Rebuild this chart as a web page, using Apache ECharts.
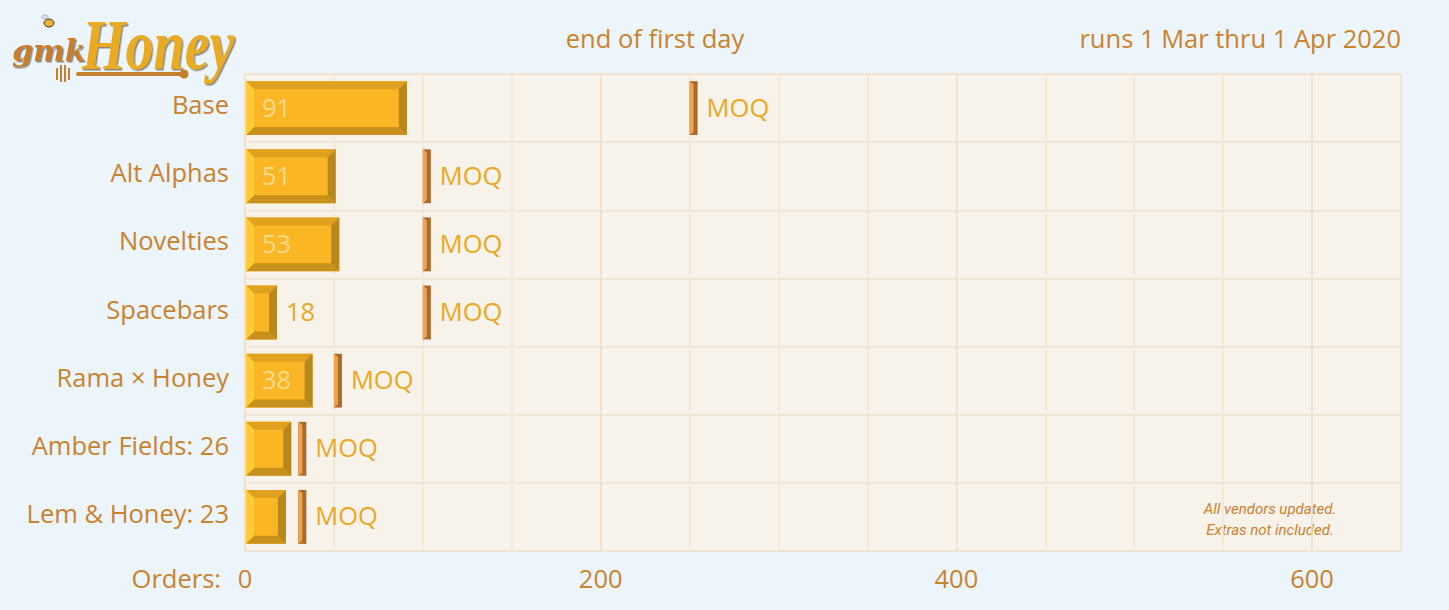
<!DOCTYPE html>
<html><head><meta charset="utf-8">
<script src="https://cdn.jsdelivr.net/npm/echarts@6/dist/echarts.min.js"></script>
<style>html,body{margin:0;padding:0;background:#EBF5FB;}#c{width:1449px;height:610px;}</style>
</head><body><div id="c"></div>
<script>
const categories = ['Base','Alt Alphas','Novelties','Spacebars','Rama × Honey','Amber Fields: 26','Lem & Honey: 23'];
const orders = [91, 51, 53, 18, 38, 26, 23];
const moq = [250, 100, 100, 100, 50, 30, 30];
const showValue = [1, 1, 1, 1, 1, 0, 0];
const xTickLabels = [0, 200, 400, 600];
const titleText = 'end of first day';
const subText = 'runs 1 Mar thru 1 Apr 2020';
const noteLines = ['All vendors updated.', 'Extras not included.'];

const FONT = '"Open Sans", Lato, sans-serif';
const FS = 25.5;
const BROWN = '#C9822F';
const GOLD = '#E9A823';

const chart = echarts.init(document.getElementById('c'), null, {renderer: 'svg'});

function renderBar(params, api) {
  const idx = api.value(0), v = api.value(1), show = api.value(2);
  const p0 = api.coord([0, idx]), p1 = api.coord([v, idx]);
  const h = api.size([0, 1])[1] * 0.79;
  const x0 = p0[0] + 1, x1 = p1[0], y0 = p0[1] - h / 2, y1 = p0[1] + h / 2;
  const b = Math.min(8, (x1 - x0) / 2, h / 2);
  const children = [
    {type: 'rect', shape: {x: x0, y: y0, width: x1 - x0, height: h}, style: {fill: '#FAB624'}},
    {type: 'polygon', shape: {points: [[x0, y0], [x1, y0], [x1 - b, y0 + b], [x0 + b, y0 + b]]}, style: {fill: '#DFA11F'}},
    {type: 'polygon', shape: {points: [[x0, y1], [x1, y1], [x1 - b, y1 - b], [x0 + b, y1 - b]]}, style: {fill: '#C8911B'}},
    {type: 'polygon', shape: {points: [[x0, y0], [x0 + b, y0 + b], [x0 + b, y1 - b], [x0, y1]]}, style: {fill: '#FFCB36'}},
    {type: 'polygon', shape: {points: [[x1, y0], [x1 - b, y0 + b], [x1 - b, y1 - b], [x1, y1]]}, style: {fill: '#B8881F'}}
  ];
  if (show) {
    const inside = (x1 - x0) > 50;
    children.push({
      type: 'text',
      style: {
        text: String(v),
        x: inside ? x0 + 16 : x1 + 9,
        y: p0[1] - 1.5,
        fill: inside ? '#F8DC8C' : GOLD,
        fontSize: FS, fontFamily: FONT,
        align: 'left', verticalAlign: 'middle'
      }
    });
  }
  return {type: 'group', children: children};
}

function renderMoq(params, api) {
  const idx = api.value(0), v = api.value(1);
  const p = api.coord([v, idx]);
  const h = api.size([0, 1])[1] * 0.79;
  const x0 = p[0], y0 = p[1] - h / 2, y1 = p[1] + h / 2;
  const w = 8, m = 4;
  return {type: 'group', children: [
    {type: 'rect', shape: {x: x0, y: y0, width: w, height: h}, style: {fill: '#A86B2B'}},
    {type: 'polygon', shape: {points: [[x0, y0], [x0 + m, y0 + 3], [x0 + m, y1 - 3], [x0, y1]]}, style: {fill: '#F0A24C'}},
    {type: 'text', style: {text: 'MOQ', x: x0 + 17, y: p[1] - 1.5, fill: GOLD, fontSize: FS, fontFamily: FONT, align: 'left', verticalAlign: 'middle'}}
  ]};
}

const barData = orders.map((v, i) => [i, v, showValue[i]]);
const moqData = moq.map((v, i) => [i, v]);

const logoShadow = {textShadowColor: 'rgba(60,40,20,0.55)', textShadowOffsetX: 1.5, textShadowOffsetY: 1.5, textShadowBlur: 1};

chart.setOption({
  backgroundColor: '#EBF5FB',
  animation: false,
  grid: {left: 245, right: 48, top: 74, bottom: 59, show: true, backgroundColor: '#F7F2EA', borderColor: '#F0E1CB', borderWidth: 1},
  xAxis: {
    type: 'value', min: 0, max: 650, interval: 50,
    axisLine: {show: false}, axisTick: {show: false},
    axisLabel: {
      color: BROWN, fontSize: FS, fontFamily: FONT, margin: 14,
      formatter: v => xTickLabels.indexOf(v) >= 0 ? String(v) : ''
    },
    splitLine: {show: true, lineStyle: {color: ['#EEDDC3', '#F3E6D2', '#F3E6D2', '#F3E6D2'], width: 1.5}}
  },
  yAxis: {
    type: 'category', data: categories, inverse: true,
    axisLine: {show: false}, axisTick: {show: false},
    axisLabel: {color: BROWN, fontSize: FS, fontFamily: FONT, margin: 16, verticalAlign: 'bottom', lineHeight: 8},
    splitLine: {show: true, interval: 0, lineStyle: {color: '#F0E1CB', width: 1.5}}
  },
  series: [
    {type: 'custom', renderItem: renderBar, data: barData, encode: {x: 1, y: 0}, z: 3},
    {type: 'custom', renderItem: renderMoq, data: moqData, encode: {x: 1, y: 0}, z: 4}
  ],
  graphic: [
    {type: 'text', style: {text: titleText, x: 655, y: 38, fill: BROWN, fontSize: FS, fontFamily: FONT, align: 'center', verticalAlign: 'middle'}},
    {type: 'text', style: {text: subText, x: 1401, y: 38, fill: BROWN, fontSize: FS, fontFamily: FONT, align: 'right', verticalAlign: 'middle'}},
    {type: 'text', style: {text: 'Orders:', x: 221, y: 578, fill: BROWN, fontSize: FS, fontFamily: FONT, align: 'right', verticalAlign: 'middle'}},
    {type: 'text', style: {text: noteLines.join('\n'), x: 1270, y: 519, fill: BROWN, fontSize: 15, lineHeight: 21, fontStyle: 'italic', fontFamily: 'Roboto, sans-serif', align: 'center', verticalAlign: 'middle'}},
    // logo
    {type: 'group', children: [
      {type: 'text', style: Object.assign({text: 'gmk', x: 12, y: 50, fill: '#C47E2D', fontSize: 30, fontStyle: 'italic', fontWeight: 'bold', fontFamily: '"DejaVu Serif", serif', verticalAlign: 'middle'}, logoShadow)},
      {type: 'text', x: 82, y: 44, scaleY: 1.3, style: Object.assign({text: 'Honey', x: 0, y: 0, fill: '#E9AB22', fontSize: 56, fontStyle: 'italic', fontWeight: 'bold', fontFamily: '"Liberation Serif", serif', verticalAlign: 'middle'}, logoShadow)},
      {type: 'line', shape: {x1: 78, y1: 74, x2: 182, y2: 74}, style: {stroke: '#C47E2D', lineWidth: 4, lineCap: 'round'}},
      {type: 'circle', shape: {cx: 184, cy: 74, r: 4.5}, style: {fill: '#C47E2D'}},
      {type: 'rect', shape: {x: 56, y: 68, width: 2, height: 12}, style: {fill: '#C47E2D'}},
      {type: 'rect', shape: {x: 60, y: 65, width: 2, height: 17}, style: {fill: '#C47E2D'}},
      {type: 'rect', shape: {x: 64, y: 65, width: 2, height: 17}, style: {fill: '#C47E2D'}},
      {type: 'rect', shape: {x: 68, y: 68, width: 2, height: 12}, style: {fill: '#C47E2D'}},
      {type: 'ellipse', shape: {cx: 49, cy: 23, rx: 5, ry: 4}, style: {fill: '#E9B23A', stroke: '#4A3A20', lineWidth: 1}},
      {type: 'ellipse', shape: {cx: 45, cy: 17, rx: 3, ry: 2}, style: {fill: '#DDE3E8', stroke: '#777', lineWidth: 0.5}}
    ]}
  ]
});
</script>
</body></html>
